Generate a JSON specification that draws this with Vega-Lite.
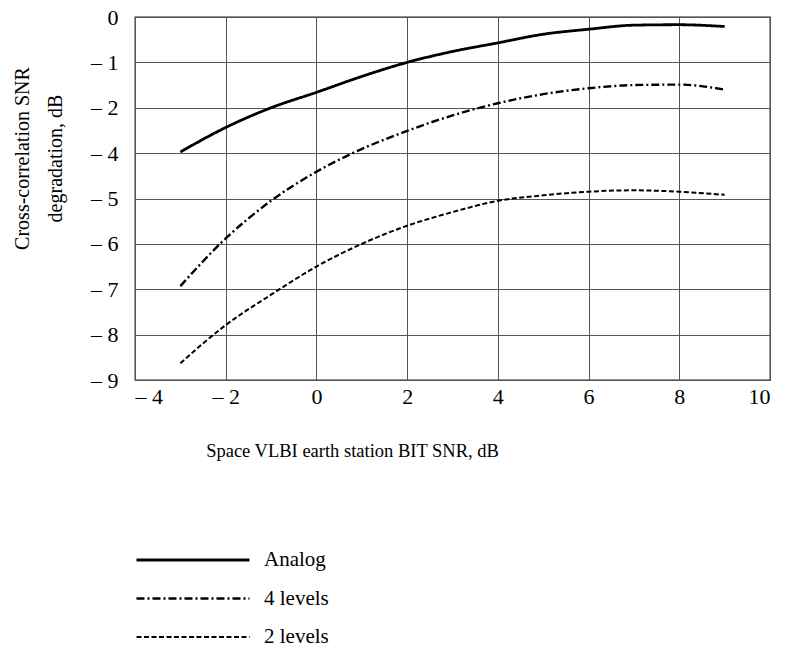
{
  "$schema": "https://vega.github.io/schema/vega-lite/v6.json",
  "autosize": {"type": "none"},
  "padding": {"left": 135, "top": 17, "right": 15, "bottom": 268},
  "width": 635,
  "height": 363,
  "background": "white",
  "config": {
    "font": "Liberation Serif",
    "view": {"stroke": "#222", "strokeWidth": 1.3},
    "axis": {
      "labelFont": "Liberation Serif", "titleFont": "Liberation Serif",
      "labelFontSize": 22, "titleFontSize": 20, "labelColor": "#000", "titleColor": "#000",
      "titleFontWeight": "normal", "grid": true, "gridColor": "#555", "gridWidth": 1,
      "gridOpacity": 1, "domain": false, "ticks": false
    },
    "legend": {
      "labelFont": "Liberation Serif", "labelFontSize": 21, "labelColor": "#000"
    }
  },
  "data": {
    "values": [
      {"snr": -3, "deg": -3.95, "series": "Analog"},
      {"snr": -2, "deg": -2.87, "series": "Analog"},
      {"snr": -1, "deg": -2.0, "series": "Analog"},
      {"snr": 0, "deg": -1.66, "series": "Analog"},
      {"snr": 1, "deg": -1.31, "series": "Analog"},
      {"snr": 2, "deg": -1.0, "series": "Analog"},
      {"snr": 3, "deg": -0.76, "series": "Analog"},
      {"snr": 4, "deg": -0.57, "series": "Analog"},
      {"snr": 5, "deg": -0.38, "series": "Analog"},
      {"snr": 6, "deg": -0.27, "series": "Analog"},
      {"snr": 7, "deg": -0.18, "series": "Analog"},
      {"snr": 8, "deg": -0.17, "series": "Analog"},
      {"snr": 9, "deg": -0.21, "series": "Analog"},
      {"snr": -3, "deg": -6.93, "series": "4 levels"},
      {"snr": -2, "deg": -5.88, "series": "4 levels"},
      {"snr": -1, "deg": -5.05, "series": "4 levels"},
      {"snr": 0, "deg": -4.41, "series": "4 levels"},
      {"snr": 0.8, "deg": -4.0, "series": "4 levels"},
      {"snr": 2, "deg": -3.02, "series": "4 levels"},
      {"snr": 3, "deg": -2.34, "series": "4 levels"},
      {"snr": 4, "deg": -1.9, "series": "4 levels"},
      {"snr": 5, "deg": -1.7, "series": "4 levels"},
      {"snr": 6, "deg": -1.57, "series": "4 levels"},
      {"snr": 7, "deg": -1.5, "series": "4 levels"},
      {"snr": 8, "deg": -1.49, "series": "4 levels"},
      {"snr": 9, "deg": -1.6, "series": "4 levels"},
      {"snr": -3, "deg": -8.63, "series": "2 levels"},
      {"snr": -2, "deg": -7.79, "series": "2 levels"},
      {"snr": -1, "deg": -7.12, "series": "2 levels"},
      {"snr": 0, "deg": -6.5, "series": "2 levels"},
      {"snr": 1, "deg": -6.0, "series": "2 levels"},
      {"snr": 2, "deg": -5.6, "series": "2 levels"},
      {"snr": 3, "deg": -5.3, "series": "2 levels"},
      {"snr": 4, "deg": -5.05, "series": "2 levels"},
      {"snr": 5, "deg": -4.93, "series": "2 levels"},
      {"snr": 6, "deg": -4.85, "series": "2 levels"},
      {"snr": 7, "deg": -4.82, "series": "2 levels"},
      {"snr": 8, "deg": -4.85, "series": "2 levels"},
      {"snr": 9, "deg": -4.92, "series": "2 levels"}
    ]
  },
  "mark": {"type": "line", "interpolate": "monotone", "color": "#000"},
  "encoding": {
    "x": {
      "field": "snr", "type": "quantitative",
      "scale": {"domain": [-4, 10], "nice": false, "zero": false},
      "axis": {
        "values": [-4, -2, 0, 2, 4, 6, 8, 10],
        "labelExpr": "datum.value < 0 ? '– ' + abs(datum.value) : '' + datum.value",
        "labelPadding": 6,
        "title": "Space VLBI earth station BIT SNR, dB", "titleFontSize": 18.5,
        "titleX": 217, "titleY": 70, "titleBaseline": "middle", "titleAlign": "center"
      }
    },
    "y": {
      "field": "deg", "type": "quantitative",
      "scale": {"domain": [-9, -4, -2, 0], "range": [363, 136.125, 90.75, 0], "nice": false, "zero": false},
      "axis": {
        "values": [0, -1, -2, -4, -5, -6, -7, -8, -9],
        "labelExpr": "datum.value < 0 ? '– ' + abs(datum.value) : '' + datum.value",
        "labelPadding": 17,
        "title": ["Cross-correlation SNR", "degradation, dB"],
        "titleAngle": -90, "titleX": -113, "titleY": 141,
        "titleBaseline": "middle", "titleAlign": "center", "titleLineHeight": 33
      }
    },
    "strokeDash": {
      "field": "series", "type": "nominal",
      "scale": {"domain": ["Analog", "4 levels", "2 levels"], "range": [[1, 0], [8, 3, 2, 3], [5, 2.5]]},
      "legend": {
        "title": null, "orient": "none", "legendX": 0, "legendY": 533,
        "symbolType": "stroke", "symbolSize": 12769, "clipHeight": 20,
        "rowPadding": 17.5, "labelOffset": 13, "symbolStrokeColor": "#000",
        "padding": 0
      }
    },
    "strokeWidth": {
      "field": "series", "type": "nominal",
      "scale": {"domain": ["Analog", "4 levels", "2 levels"], "range": [2.8, 2, 2]},
      "legend": {
        "title": null, "orient": "none", "legendX": 0, "legendY": 533,
        "symbolType": "stroke", "symbolSize": 12769, "clipHeight": 20,
        "rowPadding": 17.5, "labelOffset": 13, "symbolStrokeColor": "#000",
        "padding": 0
      }
    }
  }
}
